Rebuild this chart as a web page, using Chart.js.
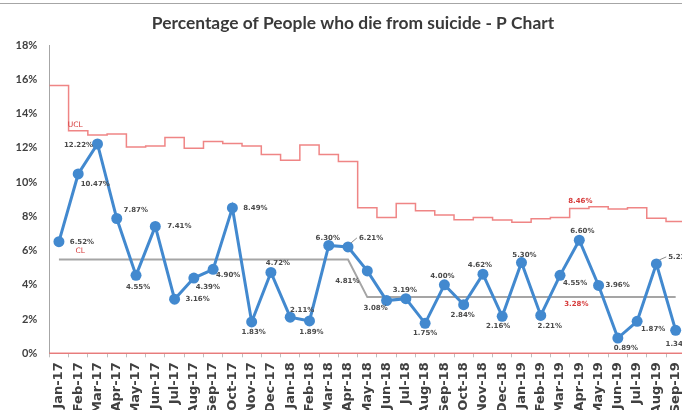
<!DOCTYPE html>
<html>
<head>
<meta charset="utf-8">
<script src="https://cdn.jsdelivr.net/npm/chart.js@4.4.1/dist/chart.umd.min.js"></script>
<style>
  html, body { margin: 0; padding: 0; background: #fff; overflow: hidden; width: 682px; height: 410px; }
  canvas { display: block; }
</style>
</head>
<body>
<canvas id="pchart" width="700" height="430"></canvas>
<script>
// Monthly categories
const months = [
  'Jan-17','Feb-17','Mar-17','Apr-17','May-17','Jun-17','Jul-17','Aug-17','Sep-17','Oct-17','Nov-17','Dec-17',
  'Jan-18','Feb-18','Mar-18','Apr-18','May-18','Jun-18','Jul-18','Aug-18','Sep-18','Oct-18','Nov-18','Dec-18',
  'Jan-19','Feb-19','Mar-19','Apr-19','May-19','Jun-19','Jul-19','Aug-19','Sep-19'
];

// Proportion of deaths by suicide (%)
const pctDeaths = [
  6.52, 10.47, 12.22, 7.87, 4.55, 7.41, 3.16, 4.39, 4.90, 8.49, 1.83, 4.72,
  2.11, 1.89, 6.30, 6.21, 4.81, 3.08, 3.19, 1.75, 4.00, 2.84, 4.62, 2.16,
  5.30, 2.21, 4.55, 6.60, 3.96, 0.89, 1.87, 5.22, 1.34
];

// Centre line (p-bar), recalculated from May-18
const centerLine = [
  5.48, 5.48, 5.48, 5.48, 5.48, 5.48, 5.48, 5.48, 5.48, 5.48, 5.48, 5.48,
  5.48, 5.48, 5.48, 5.48, 3.28, 3.28, 3.28, 3.28, 3.28, 3.28, 3.28, 3.28,
  3.28, 3.28, 3.28, 3.28, 3.28, 3.28, 3.28, 3.28, 3.28
];

// Upper control limit per month (%)
const upperLimit = [
  15.63, 13.00, 12.75, 12.80, 12.05, 12.10, 12.60, 11.97, 12.36, 12.25, 12.10, 11.60,
  11.27, 12.16, 11.60, 11.20, 8.50, 7.93, 8.75, 8.32, 8.07, 7.80, 7.93, 7.78,
  7.65, 7.85, 7.93, 8.46, 8.56, 8.42, 8.50, 7.88, 7.70
];

// Lower control limit per month (%)
const lowerLimit = [
  0, 0, 0, 0, 0, 0, 0, 0, 0, 0, 0, 0,
  0, 0, 0, 0, 0, 0, 0, 0, 0, 0, 0, 0,
  0, 0, 0, 0, 0, 0, 0, 0, 0
];

// Value axis ticks (%)
const yTickMax = 18;
const yTickStep = 2;

// Where each value label sits relative to its point (px)
const labelOffsets = [
  [23, 1], [17, 10], [-19, 1], [19, -8], [2, 12], [24, 0], [23, 0], [14, 9], [15, 6], [23, 0], [2, 10], [7, -9],
  [12, -7], [2, 11], [-1, -7], [23, -9], [-20, 10], [-11, 8], [-1, -8], [0, 10], [-2, -9], [-1, 11], [-3, -9], [-4, 10],
  [3, -7], [9, 11], [15, 8], [3, -9], [19, 0], [8, 10], [16, 8], [24, -7], [2, 14]
];
const leaderLabels = [15, 31];

// Each month's limit spans the full width of its category
function monthSteps(values) {
  const pts = [];
  values.forEach((v, i) => { pts.push({ x: i - 0.5, y: v }); pts.push({ x: i + 0.5, y: v }); });
  return pts;
}

const BLUE = 'rgb(66,137,207)';
const LIMIT_RED = 'rgba(236,112,112,0.85)';
const LABEL_RED = 'rgb(214,58,58)';

const chartDecor = {
  id: 'chartDecor',
  beforeDraw(chart) {
    const ctx = chart.ctx;
    ctx.save();
    ctx.fillStyle = '#fff';
    ctx.fillRect(0, 0, chart.width, chart.height);
    ctx.strokeStyle = '#a6a6a6';
    ctx.lineWidth = 1;
    ctx.beginPath();
    ctx.moveTo(0, 3.5);
    ctx.lineTo(chart.width, 3.5);
    ctx.stroke();
    ctx.fillStyle = '#3a3a3a';
    ctx.font = 'bold 17.4px Lato';
    ctx.textAlign = 'center';
    ctx.textBaseline = 'middle';
    ctx.fillText('Percentage of People who die from suicide - P Chart', 353, 23);
    ctx.restore();
  },
  afterDatasetsDraw(chart) {
    const ctx = chart.ctx;
    const meta = chart.getDatasetMeta(0);
    const xs = chart.scales.x, ys = chart.scales.y;
    ctx.save();
    ctx.font = 'bold 7px "DejaVu Sans"';
    ctx.textAlign = 'center';
    ctx.textBaseline = 'middle';
    ctx.fillStyle = '#4a4a4a';
    meta.data.forEach((pt, i) => {
      const [dx, dy] = labelOffsets[i];
      const txt = pctDeaths[i].toFixed(2) + '%';
      ctx.fillText(txt, pt.x + dx, pt.y + dy);
      if (leaderLabels.includes(i)) {
        const w = ctx.measureText(txt).width;
        const lx = pt.x + dx - w / 2 - 2;
        ctx.strokeStyle = '#8c8c8c';
        ctx.lineWidth = 1;
        ctx.beginPath();
        ctx.moveTo(pt.x + 3, pt.y - 4);
        ctx.lineTo(lx, pt.y + dy);
        ctx.stroke();
      }
    });
    // limit annotations
    ctx.font = '7.5px "DejaVu Sans"';
    ctx.fillStyle = LABEL_RED;
    ctx.fillText('UCL', xs.getPixelForValue(1) - 3, ys.getPixelForValue(upperLimit[1]) - 6);
    ctx.fillText('CL', xs.getPixelForValue(1) + 2, ys.getPixelForValue(centerLine[1]) - 8);
    ctx.font = 'bold 7px "DejaVu Sans"';
    ctx.fillText(upperLimit[27].toFixed(2) + '%', xs.getPixelForValue(27) + 1, ys.getPixelForValue(upperLimit[27]) - 7);
    ctx.fillText(centerLine[27].toFixed(2) + '%', xs.getPixelForValue(27) - 3, ys.getPixelForValue(centerLine[27]) + 7);
    ctx.restore();
  }
};

new Chart(document.getElementById('pchart'), {
  type: 'line',
  data: {
    labels: months,
    datasets: [
      {
        label: 'P',
        data: pctDeaths,
        xAxisID: 'x',
        borderColor: BLUE,
        backgroundColor: BLUE,
        borderWidth: 3,
        pointRadius: 5.5,
        pointBorderWidth: 0,
        pointBackgroundColor: BLUE,
        tension: 0,
        clip: false
      },
      {
        label: 'CL',
        data: centerLine,
        xAxisID: 'x',
        borderColor: 'rgb(165,165,165)',
        borderWidth: 2,
        pointRadius: 0,
        tension: 0
      },
      {
        label: 'UCL',
        data: monthSteps(upperLimit),
        xAxisID: 'xs',
        borderColor: LIMIT_RED,
        borderWidth: 1.5,
        pointRadius: 0,
        tension: 0
      },
      {
        label: 'LCL',
        data: monthSteps(lowerLimit),
        xAxisID: 'xs',
        borderColor: LIMIT_RED,
        borderWidth: 1.5,
        pointRadius: 0,
        tension: 0,
        clip: false
      }
    ]
  },
  options: {
    responsive: false,
    animation: false,
    devicePixelRatio: 1,
    layout: { padding: { top: 45, right: 14.7, bottom: 0, left: 0 } },
    plugins: {
      legend: { display: false },
      tooltip: { enabled: false },
      title: { display: false }
    },
    scales: {
      x: {
        type: 'category',
        offset: true,
        grid: { display: true, offset: true, drawOnChartArea: false, drawTicks: true, tickLength: 4, color: '#bfbfbf' },
        border: { display: true, color: '#bfbfbf', width: 1 },
        ticks: {
          autoSkip: false,
          minRotation: 90,
          maxRotation: 90,
          padding: 5,
          color: '#404040',
          font: { family: 'DejaVu Sans', weight: 'bold', size: 13 }
        },
        afterFit(scale) { scale.height = 76.7; }
      },
      xs: {
        type: 'linear',
        display: false,
        min: -0.5,
        max: months.length - 0.5
      },
      y: {
        min: 0,
        max: yTickMax,
        grid: { display: true, drawOnChartArea: false, drawTicks: false },
        border: { display: true, color: '#a6a6a6', width: 1 },
        ticks: {
          stepSize: yTickStep,
          padding: 12,
          color: '#404040',
          font: { family: 'Lato', weight: 'bold', size: 11 },
          callback: v => v + '%'
        },
        afterFit(scale) { scale.width = 49.3; }
      }
    }
  },
  plugins: [chartDecor]
});
</script>
</body>
</html>
